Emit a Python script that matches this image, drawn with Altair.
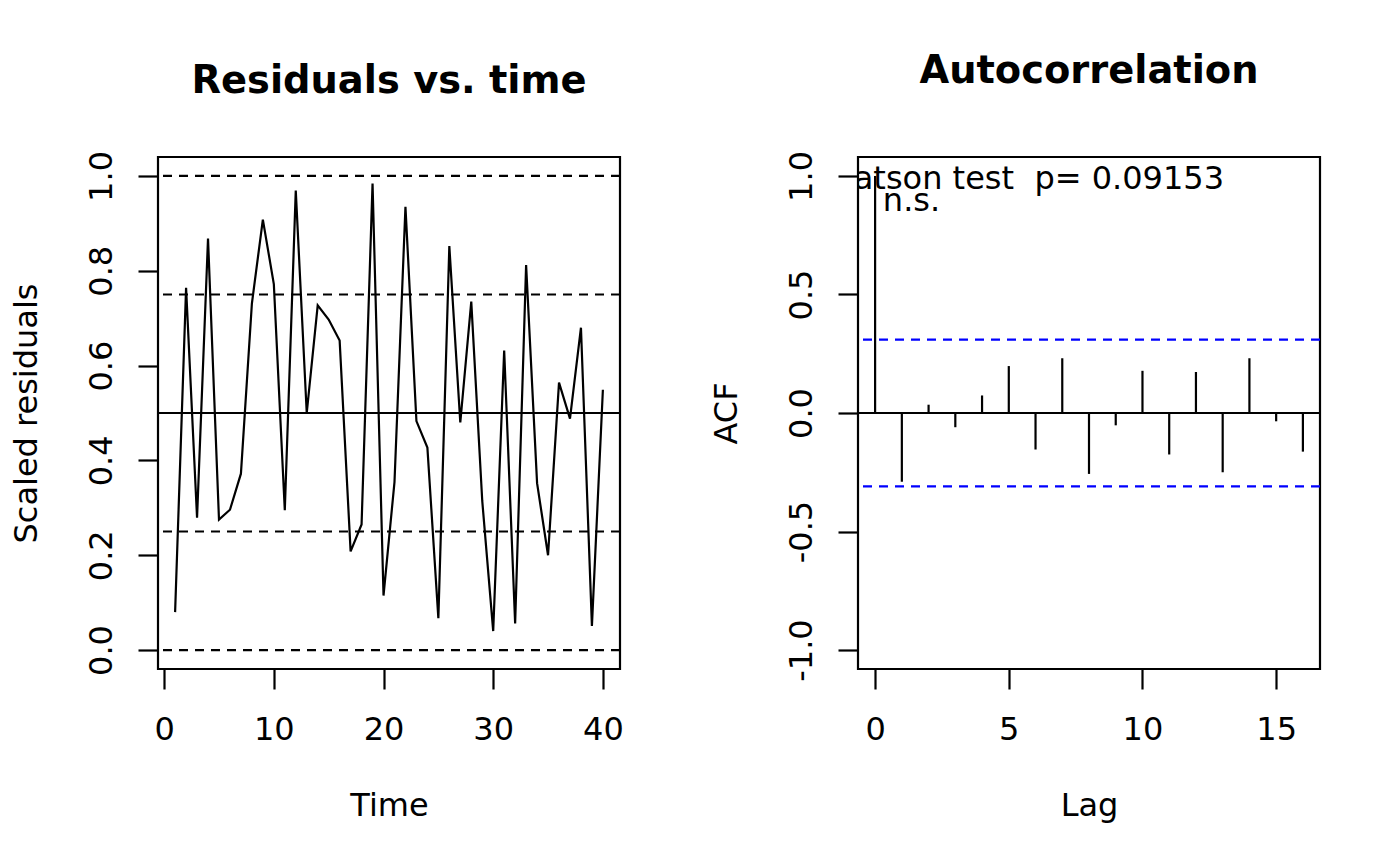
import altair as alt
import pandas as pd

# ---- data ----
time = list(range(1, 41))
resid = [0.080, 0.764, 0.279, 0.868, 0.275, 0.296, 0.372, 0.731, 0.908, 0.772,
         0.295, 0.969, 0.500, 0.727, 0.697, 0.653, 0.208, 0.265, 0.984, 0.115,
         0.354, 0.935, 0.483, 0.427, 0.067, 0.852, 0.480, 0.735, 0.315, 0.040,
         0.632, 0.056, 0.812, 0.352, 0.200, 0.564, 0.488, 0.680, 0.051, 0.549]
dashed_levels = [0.0, 0.25, 0.75, 1.0]
solid_level = [0.5]

lags = list(range(0, 17))
acf = [1.0, -0.290, 0.035, -0.060, 0.074, 0.198, -0.154, 0.231, -0.257, -0.052,
       0.178, -0.175, 0.173, -0.250, 0.231, -0.035, -0.163]
ci = [0.3099, -0.3099]

test_line1 = "Durbin-Watson test \u00a0p= 0.09153"
test_line2 = "n.s."

FONT = "DejaVu Sans"
W, H = 462, 512
LW = 2.2
DASH = [9, 7]

res_df = pd.DataFrame({"Time": time, "res": resid})
acf_df = pd.DataFrame({"Lag": lags, "ACF": acf, "base": [0.0] * len(lags)})

YLAB = "datum.value < 0 ? '-' + format(-datum.value, '.1f') : format(datum.value, '.1f')"


def yaxis(title, values):
    return alt.Axis(
        title=title, values=values, labelExpr=YLAB, grid=False, domain=False,
        ticks=True, tickSize=20, tickWidth=LW, tickColor="black",
        labelAngle=270, labelAlign="center", labelBaseline="alphabetic",
        labelPadding=27, labelFont=FONT, labelFontSize=32, labelColor="black",
        labelOverlap=False, labelFlush=False,
        titleFont=FONT, titleFontSize=32, titleFontWeight="normal", titleColor="black",
        titleAngle=270, titleAlign="center", titleBaseline="alphabetic",
        titleX=-122, titleY=H / 2,
    )


def xaxis(title, values):
    return alt.Axis(
        title=title, values=values, format="d", grid=False, domain=False,
        ticks=True, tickSize=20, tickWidth=LW, tickColor="black",
        labelAngle=0, labelAlign="center", labelBaseline="alphabetic",
        labelPadding=50, labelFont=FONT, labelFontSize=32, labelColor="black",
        labelOverlap=False, labelFlush=False,
        titleFont=FONT, titleFontSize=32, titleFontWeight="normal", titleColor="black",
        titleAlign="center", titleBaseline="alphabetic",
        titleX=W / 2, titleY=146,
    )


def ptitle(text, offset):
    return alt.TitleParams(text, font=FONT, fontSize=38.4, fontWeight="bold",
                           color="black", anchor="middle", frame="group",
                           baseline="alphabetic", offset=offset)


# ---- left panel: residuals vs time ----
xl = alt.X("Time:Q", scale=alt.Scale(domain=[-0.56, 41.56], nice=False, zero=False),
           axis=xaxis("Time", [0, 10, 20, 30, 40]))
yl = alt.Y("res:Q", scale=alt.Scale(domain=[-0.04, 1.04], nice=False, zero=False),
           axis=yaxis("Scaled residuals", [0.0, 0.2, 0.4, 0.6, 0.8, 1.0]))

line = alt.Chart(res_df).mark_line(color="black", strokeWidth=LW).encode(x=xl, y=yl)

dashed = alt.Chart(pd.DataFrame({"lv": dashed_levels})).mark_rule(
    color="black", strokeWidth=LW, strokeDash=DASH
).encode(y=alt.Y("lv:Q"))
solid = alt.Chart(pd.DataFrame({"lv": solid_level})).mark_rule(
    color="black", strokeWidth=LW
).encode(y=alt.Y("lv:Q"))

left = alt.layer(line, dashed, solid).properties(
    width=W, height=H, title=ptitle("Residuals vs. time", 19)
)

# ---- right panel: autocorrelation ----
xr = alt.X("Lag:Q", scale=alt.Scale(domain=[-0.64, 16.64], nice=False, zero=False),
           axis=xaxis("Lag", [0, 5, 10, 15]))
yr = alt.Y("ACF:Q", scale=alt.Scale(domain=[-1.08, 1.08], nice=False, zero=False),
           axis=yaxis("ACF", [-1.0, -0.5, 0.0, 0.5, 1.0]))

bars = alt.Chart(acf_df).mark_rule(color="black", strokeWidth=LW).encode(
    x=xr, y=yr, y2="base:Q"
)
zero = alt.Chart(pd.DataFrame({"lv": [0.0]})).mark_rule(
    color="black", strokeWidth=LW
).encode(y=alt.Y("lv:Q"))
cil = alt.Chart(pd.DataFrame({"lv": ci})).mark_rule(
    color="#0000ff", strokeWidth=LW, strokeDash=DASH
).encode(y=alt.Y("lv:Q"))

txt_df = pd.DataFrame({
    "Lag": [13.05, 0.29],
    "ACF": [0.945, 0.852],
    "label": [test_line1, test_line2],
})
txt1 = alt.Chart(txt_df.iloc[[0]]).mark_text(
    font=FONT, fontSize=32, color="black", align="right", baseline="alphabetic", clip=True
).encode(x="Lag:Q", y="ACF:Q", text="label:N")
txt2 = alt.Chart(txt_df.iloc[[1]]).mark_text(
    font=FONT, fontSize=32, color="black", align="left", baseline="alphabetic", clip=True
).encode(x="Lag:Q", y="ACF:Q", text="label:N")

right = alt.layer(bars, zero, cil, txt1, txt2).properties(
    width=W, height=H, title=ptitle("Autocorrelation", 29)
)

chart = alt.hconcat(left, right, spacing=238, bounds="flush").properties(
    padding={"left": 0, "top": 43, "right": 5, "bottom": 5},
    background="white",
).configure_view(stroke="black", strokeWidth=LW)

chart.save("out.html", embed_options={"renderer": "svg", "actions": False})
